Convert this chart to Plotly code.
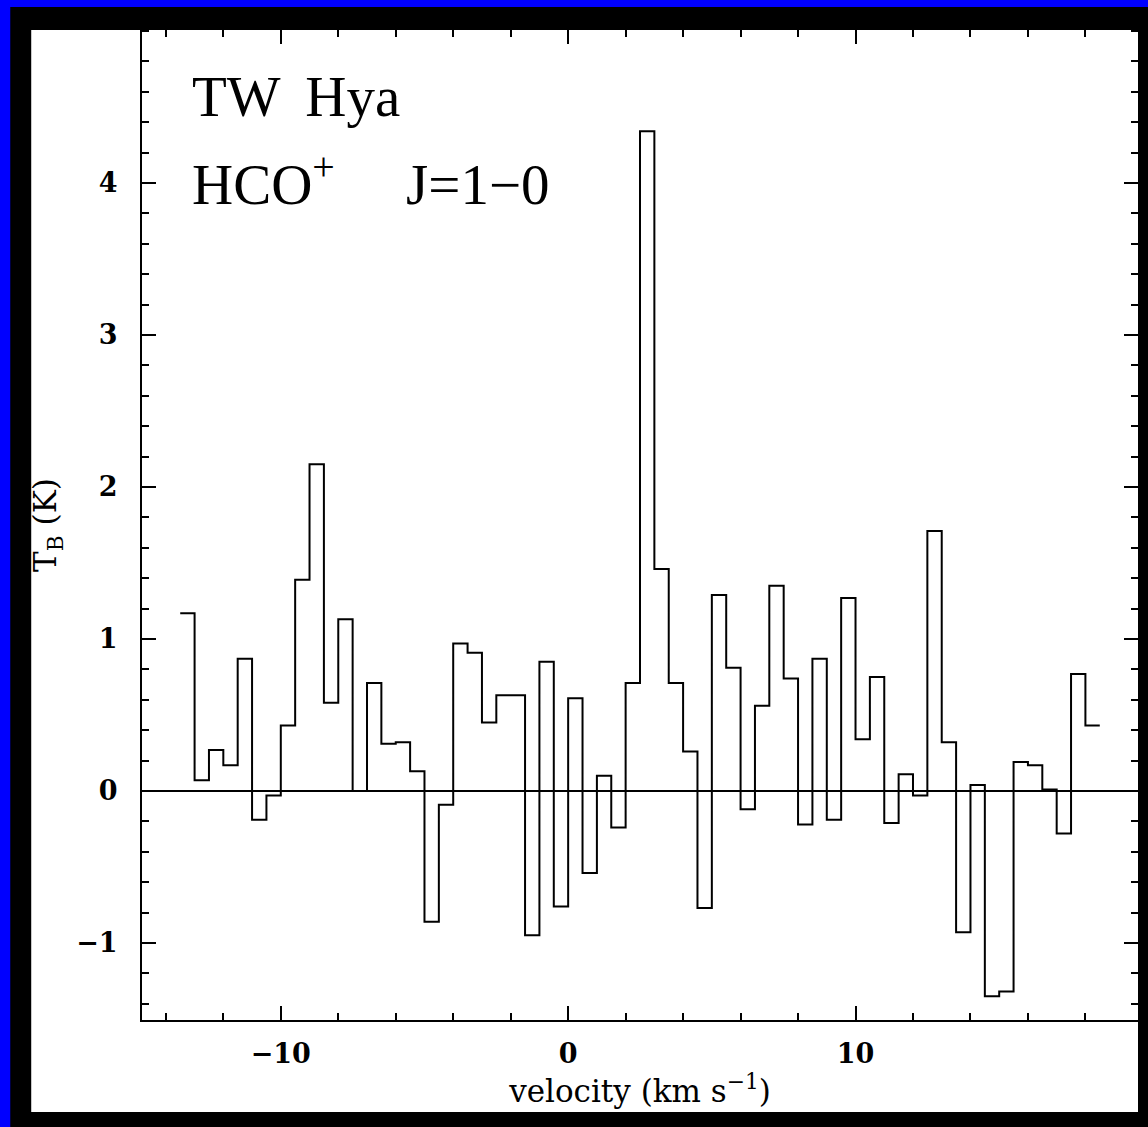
import plotly.graph_objects as go

# Channel left-edge velocities (km/s) and brightness temperatures (K)
velocity_left = [-13.5, -13.0, -12.5, -12.0, -11.5, -11.0, -10.5, -10.0, -9.5, -9.0,
                 -8.5, -8.0, -7.5, -7.0, -6.5, -6.0, -5.5, -5.0, -4.5, -4.0,
                 -3.5, -3.0, -2.5, -2.0, -1.5, -1.0, -0.5, 0.0, 0.5, 1.0,
                 1.5, 2.0, 2.5, 3.0, 3.5, 4.0, 4.5, 5.0, 5.5, 6.0,
                 6.5, 7.0, 7.5, 8.0, 8.5, 9.0, 9.5, 10.0, 10.5, 11.0,
                 11.5, 12.0, 12.5, 13.0, 13.5, 14.0, 14.5, 15.0, 15.5, 16.0,
                 16.5, 17.0, 17.5, 18.0]
channel_width = 0.5
tb_values = [1.17, 0.07, 0.27, 0.17, 0.87, -0.19, -0.03, 0.43, 1.39, 2.15,
             0.58, 1.13, 0.0, 0.71, 0.31, 0.32, 0.13, -0.86, -0.09, 0.97,
             0.91, 0.45, 0.63, 0.63, -0.95, 0.85, -0.76, 0.61, -0.54, 0.10,
             -0.24, 0.71, 4.34, 1.46, 0.71, 0.26, -0.77, 1.29, 0.81, -0.12,
             0.56, 1.35, 0.74, -0.22, 0.87, -0.19, 1.27, 0.34, 0.75, -0.21,
             0.11, -0.03, 1.71, 0.32, -0.93, 0.04, -1.35, -1.32, 0.19, 0.17,
             0.01, -0.28, 0.77, 0.43]

x_ticks = [-10, 0, 10]
y_ticks = [-1, 0, 1, 2, 3, 4]
x_range = [-14.83, 19.83]
y_range = [-1.507, 5.007]

# step outline: left edges plus the final right edge
step_x = velocity_left + [velocity_left[-1] + channel_width]
step_y = tb_values + [tb_values[-1]]

W, H = 1148, 1127
ml, mr, mt, mb = 142, 8, 30, 107
pw, ph = W - ml - mr, H - mt - mb


def px(x):
    return (x - ml) / pw


def py(y):
    return (H - mb - y) / ph


fig = go.Figure()
fig.add_trace(go.Scatter(x=step_x, y=step_y, mode="lines", line_shape="hv",
                         line=dict(color="black", width=2), showlegend=False,
                         hoverinfo="skip"))

serif = "Liberation Serif"
wide_serif = "DejaVu Serif"
tickfont = dict(family=wide_serif, size=27, color="black", weight="bold")
titlefont = dict(family=wide_serif, size=31, color="black")

fig.update_layout(
    width=W, height=H,
    margin=dict(l=ml, r=mr, t=mt, b=mb, pad=0),
    paper_bgcolor="#0000ff",
    plot_bgcolor="white",
    showlegend=False,
    xaxis=dict(range=x_range, tickvals=x_ticks, ticks="inside", ticklen=14,
               tickwidth=2, tickcolor="black", showline=True, linecolor="black",
               linewidth=2, mirror="allticks", showgrid=False, zeroline=False,
               tickfont=tickfont, ticklabelstandoff=9,
               minor=dict(dtick=2, tick0=0, ticks="inside", ticklen=7,
                          tickwidth=2, tickcolor="black", showgrid=False),
               title=dict(text="velocity (km s<sup>\u22121</sup>)",
                          font=titlefont, standoff=6)),
    yaxis=dict(range=y_range, tickvals=y_ticks, ticks="inside", ticklen=14,
               tickwidth=2, tickcolor="black", showline=True, linecolor="black",
               linewidth=2, mirror="allticks", showgrid=False, zeroline=True,
               zerolinecolor="black", zerolinewidth=2,
               tickfont=tickfont, ticklabelstandoff=17,
               minor=dict(dtick=0.2, tick0=0, ticks="inside", ticklen=7,
                          tickwidth=2, tickcolor="black", showgrid=False),
               title=dict(text="T<sub>B</sub> (K)", font=titlefont, standoff=10)),
)

# frame: black border and white panel
fig.add_shape(type="rect", xref="paper", yref="paper", layer="below",
              x0=px(10), x1=px(W + 5), y0=py(H + 5), y1=py(7),
              fillcolor="black", line=dict(width=0))
fig.add_shape(type="rect", xref="paper", yref="paper", layer="below",
              x0=px(31), x1=px(1140), y0=py(1112), y1=py(30),
              fillcolor="white", line=dict(width=0))

labelfont = dict(family=serif, size=57, color="black")
fig.add_annotation(text="TW \u2009Hya", xref="paper", yref="paper",
                   x=px(190), y=py(97), xanchor="left", yanchor="middle",
                   showarrow=False, font=labelfont)
fig.add_annotation(text="HCO<sup>+</sup>\u00a0\u00a0\u00a0\u00a0 J=1\u22120", xref="paper", yref="paper",
                   x=px(190), y=py(180), xanchor="left", yanchor="middle",
                   showarrow=False, font=labelfont)

fig.write_html("out.html")
